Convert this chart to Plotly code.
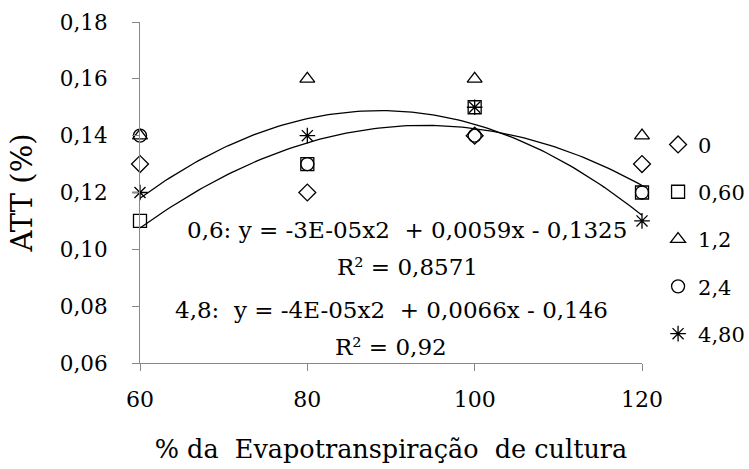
import numpy as np
import plotly.graph_objects as go

x_vals = [60, 80, 100, 120]
series_names = ["0", "0,60", "1,2", "2,4", "4,80"]
y_0 = [0.13, 0.12, 0.14, 0.13]
y_060 = [0.11, 0.13, 0.15, 0.12]
y_12 = [0.14, 0.16, 0.16, 0.14]
y_24 = [0.14, 0.13, 0.14, 0.12]
y_480 = [0.12, 0.14, 0.15, 0.11]
symbols = ["diamond-open", "square-open", "triangle-up-open", "circle-open", "asterisk-open"]
eq_texts = [
    "0,6: y = -3E-05x2  + 0,0059x - 0,1325",
    "R² = 0,8571",
    "4,8:  y = -4E-05x2  + 0,0066x - 0,146",
    "R² = 0,92",
]
y_ticks = [0.06, 0.08, 0.10, 0.12, 0.14, 0.16, 0.18]

FONT = "DejaVu Serif"
fig = go.Figure()

# quadratic trend lines fitted to the 0,60 and 4,80 series
xf = np.linspace(60, 120, 121)
for ys in (y_060, y_480):
    coef = np.polyfit(x_vals, ys, 2)
    fig.add_trace(go.Scatter(x=xf, y=np.polyval(coef, xf), mode="lines",
                             line=dict(color="black", width=1.3),
                             showlegend=False, hoverinfo="skip"))

all_series = [y_0, y_060, y_12, y_24, y_480]
for name, ys, sym in zip(series_names, all_series, symbols):
    fig.add_trace(go.Scatter(x=x_vals, y=ys, mode="markers", name=name,
                             legendgroup=name,
                             marker=dict(symbol=sym, size=13, color="black",
                                         line=dict(color="black", width=1.3)),
                             cliponaxis=False))

ann_pos = [(0.532, 0.39), (0.532, 0.2815), (0.5, 0.155), (0.5, 0.047)]
for t, (ax, ay) in zip(eq_texts, ann_pos):
    fig.add_annotation(text=t, x=ax, y=ay, xref="paper", yref="paper",
                       xanchor="center", yanchor="middle",
                       showarrow=False, font=dict(family=FONT, size=23, color="black"))

fig.update_layout(
    width=749, height=469,
    margin=dict(l=140, r=107, t=22, b=106, autoexpand=False),
    paper_bgcolor="white", plot_bgcolor="white",
    separators=", ",
    font=dict(family=FONT, size=21, color="black"),
    legend=dict(x=1.032, y=0.70, xanchor="left", yanchor="top",
                font=dict(family=FONT, size=21), tracegroupgap=17,
                itemwidth=30, bgcolor="rgba(0,0,0,0)"),
    xaxis=dict(range=[60, 120], tickvals=x_vals, showline=True, linecolor="#888888",
               linewidth=1, ticks="outside", ticklen=7, tickcolor="#888888",
               showgrid=False, zeroline=False, ticklabelstandoff=10, automargin=False,
               tickfont=dict(family=FONT, size=22),
               title=dict(text="% da  Evapotranspiração  de cultura",
                          font=dict(family=FONT, size=25.5), standoff=28)),
    yaxis=dict(range=[0.06, 0.18], tickvals=y_ticks, tickformat=".2f", showline=True,
               linecolor="#888888", linewidth=1, ticks="outside", ticklen=7,
               tickcolor="#888888", showgrid=False, zeroline=False, automargin=False,
               ticklabelstandoff=20, tickfont=dict(family=FONT, size=21.5),
               title=dict(text="ATT (%)", font=dict(family=FONT, size=29), standoff=18)),
)
fig.write_html("out.html")
